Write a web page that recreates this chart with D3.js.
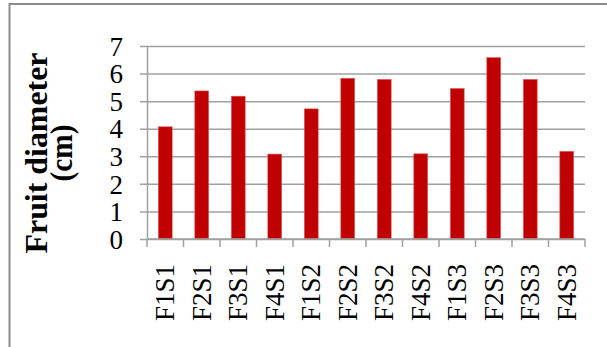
<!DOCTYPE html>
<html>
<head>
<meta charset="utf-8">
<script src="https://cdn.jsdelivr.net/npm/d3@7"></script>
<style>
  body { margin: 0; background: #fff; }
  svg { display: block; }
  .axis path, .axis line { stroke: #a0a0a0; stroke-width: 1.5; }
</style>
</head>
<body>
<svg id="chart" width="607" height="347"></svg>
<script>
// data
const categories = ["F1S1", "F2S1", "F3S1", "F4S1", "F1S2", "F2S2", "F3S2", "F4S2", "F1S3", "F2S3", "F3S3", "F4S3"];
const diameters = [4.07, 5.37, 5.18, 3.08, 4.72, 5.83, 5.79, 3.09, 5.46, 6.58, 5.79, 3.18];
const yTicks = [0, 1, 2, 3, 4, 5, 6, 7];

const serif = "'Liberation Serif', 'Times New Roman', serif";

var svg = d3.select("#chart");
var margin = {top: 46, right: 22, bottom: 108, left: 147};
var innerWidth = +svg.attr("width") - margin.left - margin.right;
var innerHeight = +svg.attr("height") - margin.top - margin.bottom;

// outer frame (runs off the right and bottom edges)
svg.append("rect")
    .attr("x", 9.5).attr("y", 4)
    .attr("width", 620).attr("height", 360)
    .attr("fill", "none")
    .attr("stroke", "#8c8c8c")
    .attr("stroke-width", 2);

var g = svg.append("g")
    .attr("transform", "translate(" + margin.left + "," + margin.top + ")");

var x = d3.scaleBand()
    .domain(categories)
    .range([0, innerWidth])
    .paddingInner(0.62)
    .paddingOuter(0.31);

// plain band for the category boundary ticks
var xCell = d3.scaleBand()
    .domain(categories)
    .range([0, innerWidth]);

var y = d3.scaleLinear()
    .domain([0, 7])
    .range([innerHeight, 0]);

// gridlines + left axis
var yAxis = g.append("g")
    .attr("class", "axis axis--y")
    .call(d3.axisLeft(y).tickValues(yTicks).tickFormat(d3.format("d"))
        .tickSize(7).tickPadding(17).tickSizeOuter(0));
yAxis.attr("font-family", null).attr("font-size", null);
yAxis.selectAll(".tick line")
    .attr("x1", -7)
    .attr("x2", innerWidth);
yAxis.selectAll("text")
    .style("font-family", serif)
    .style("font-size", "27px")
    .style("fill", "#000")
    .attr("dy", "0.34em");

// bars
g.selectAll(".bar")
    .data(categories.map((c, i) => ({cat: c, value: diameters[i]})))
    .enter().append("rect")
    .attr("class", "bar")
    .attr("x", d => x(d.cat))
    .attr("y", d => y(d.value))
    .attr("width", x.bandwidth())
    .attr("height", d => innerHeight - y(d.value))
    .attr("fill", "#c00000")
    .attr("stroke", "#e06060")
    .attr("stroke-width", 0.6);

// bottom axis: line + boundary ticks
var xAxis = g.append("g")
    .attr("class", "axis axis--x")
    .attr("transform", "translate(0," + innerHeight + ")");

xAxis.append("line")
    .attr("x1", 0).attr("x2", innerWidth)
    .attr("y1", 0).attr("y2", 0);

xAxis.selectAll(".bound")
    .data(categories.concat(["end"]))
    .enter().append("line")
    .attr("class", "bound")
    .attr("x1", (d, i) => i < categories.length ? xCell(d) : innerWidth)
    .attr("x2", (d, i) => i < categories.length ? xCell(d) : innerWidth)
    .attr("y1", 0)
    .attr("y2", 8);

// rotated category labels
xAxis.selectAll(".lbl")
    .data(categories)
    .enter().append("text")
    .attr("class", "lbl")
    .attr("text-anchor", "end")
    .attr("transform", d => "translate(" + (x(d) + x.bandwidth() / 2) + ",25) rotate(-90)")
    .attr("dy", "0.34em")
    .style("font-family", serif)
    .style("font-size", "27px")
    .style("fill", "#000")
    .text(d => d);

// y axis title, two lines
var title = svg.append("text")
    .attr("transform", "translate(0,153) rotate(-90)")
    .attr("text-anchor", "middle")
    .style("font-family", serif)
    .style("font-weight", "bold")
    .style("font-size", "32px")
    .attr("fill", "#000");
title.append("tspan").attr("x", 0).attr("y", 46.5)
    .attr("textLength", 201).attr("lengthAdjust", "spacingAndGlyphs")
    .text("Fruit diameter");
title.append("tspan").attr("x", 0).attr("y", 72)
    .attr("textLength", 57).attr("lengthAdjust", "spacingAndGlyphs")
    .text("(cm)");
</script>
</body>
</html>
